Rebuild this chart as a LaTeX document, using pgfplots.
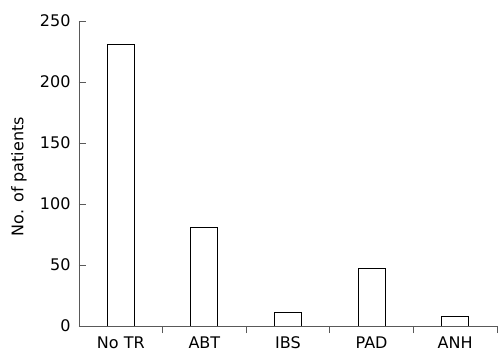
\documentclass[border=0pt]{standalone}
\usepackage{pgfplots}
\pgfplotsset{compat=1.18}
\usepackage{fontspec}
\setmainfont{DejaVu Sans}
\begin{document}
\begin{tikzpicture}
\begin{axis}[
  scale only axis,
  width=418bp, height=305bp,
  at={(0,0)}, anchor=south west,
  xmin=-0.5, xmax=4.5, ymin=0, ymax=250,
  axis x line=bottom, axis y line=left,
  axis line style={-, draw=black!65, line width=0.9bp},
  tick align=inside,
  major tick length=7bp,
  tick style={draw=black!65, line width=0.9bp},
  ytick={0,50,100,150,200,250},
  xtick={0.5,1.5,2.5,3.5,4.5},
  xticklabels={},
  extra x ticks={0,1,2,3,4},
  extra x tick labels={No TR,ABT,IBS,PAD,ANH},
  extra x tick style={major tick length=0pt},
  /pgf/number format/assume math mode=true,
  tick label style={font=\fontsize{16bp}{19bp}\selectfont},
  yticklabel style={xshift=-5bp},
  xticklabel style={yshift=-7bp},
  ylabel={No. of patients},
  every axis y label/.style={at={([xshift=-60bp]rel axis cs:0,0.49)}, rotate=90, anchor=center, font=\fontsize{16bp}{19bp}\selectfont},
  ybar, bar width=27bp,
]
\addplot[fill=white, draw=black, line width=0.9bp] coordinates {(0,231) (1,81) (2,11.5) (3,47.3) (4,7.5)};
\end{axis}
\pgfresetboundingbox
\path[use as bounding box] (-79bp,-28bp) rectangle (419bp,326bp);
\end{tikzpicture}
\end{document}
